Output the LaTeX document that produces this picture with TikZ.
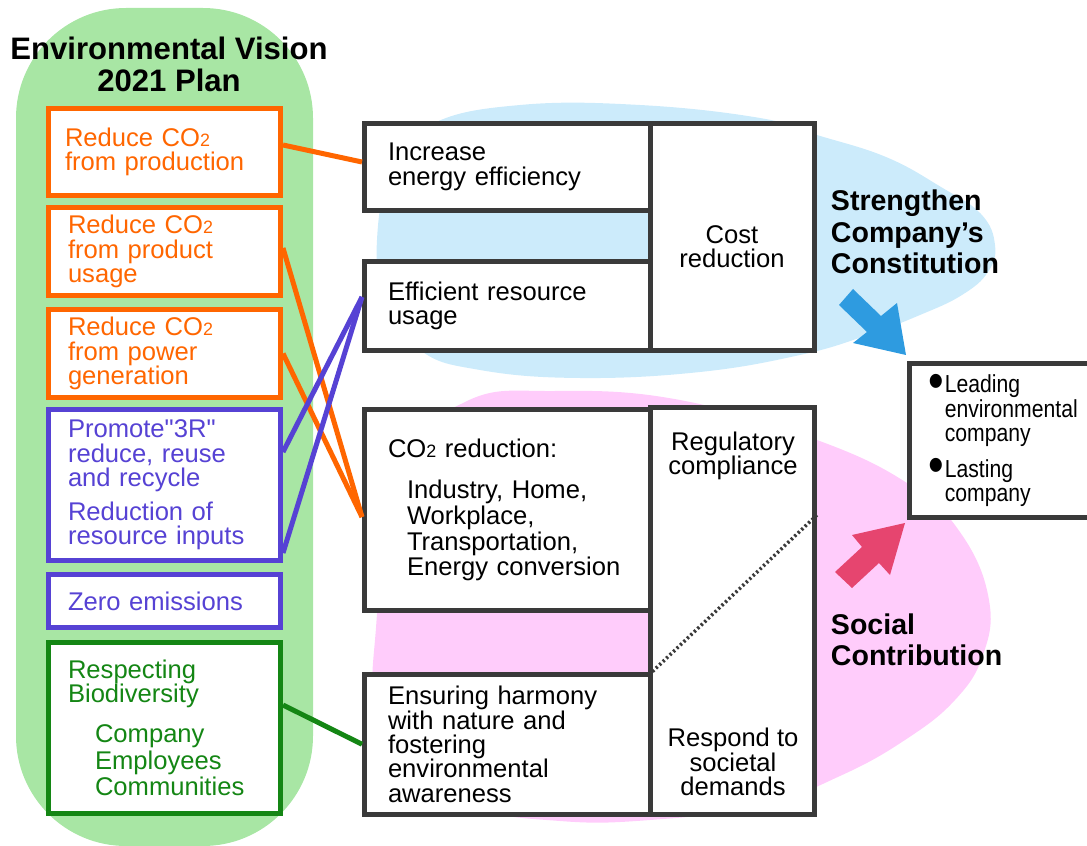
\documentclass[tikz,border=0pt]{standalone}
\usepackage{fontspec}
\setmainfont{Liberation Sans}
\newfontfamily\narrowfont[FakeStretch=0.86]{Liberation Sans}
\usetikzlibrary{calc}

\definecolor{planorange}{RGB}{255,102,0}
\definecolor{planviolet}{RGB}{86,66,212}
\definecolor{plangreen}{RGB}{20,134,20}
\definecolor{pillgreen}{RGB}{168,230,164}
\definecolor{blobblue}{RGB}{204,235,251}
\definecolor{blobpink}{RGB}{255,204,251}
\definecolor{boxgray}{RGB}{58,58,58}
\definecolor{arrowblue}{RGB}{46,155,224}
\definecolor{arrowpink}{RGB}{230,69,111}

\def\pxu{0.025cm}
\newcommand{\cotwo}{CO\scalebox{0.7}{2}}
\newcommand{\blt}{\makebox[0.42cm][l]{\raisebox{-0.24em}{\scalebox{2.1}{\textbullet}}}}
\newcommand{\mainsize}{\fontsize{18.2}{17.3}\selectfont}
\newcommand{\narrowsize}{\fontsize{17.5}{17.3}\selectfont}
\newcommand{\titlesize}{\fontsize{22.1}{22.8}\selectfont}
\newcommand{\labelsize}{\fontsize{20.3}{22.4}\selectfont}

\tikzset{
  goal/.style={draw=#1, text=#1, line width=5*\pxu, fill=white, inner sep=0pt,
    align=left, font=\mainsize, minimum width=232*\pxu},
  midbox/.style={draw=boxgray, line width=5*\pxu, fill=white, inner sep=0pt,
    align=left, font=\mainsize},
  link/.style={line width=5*\pxu, draw=#1},
}

\begin{document}
\begin{tikzpicture}[x=0.025cm, y=-0.025cm]
\useasboundingbox (0,0) rectangle (1087,846);

%% backgrounds
\fill[pillgreen, rounded corners=2.75cm] (16,8) rectangle (313,846);
\fill[blobblue] plot[smooth cycle, tension=0.7] coordinates {
  (377,240) (392,168) (432,124) (520,105) (640,105) (760,118) (817,135)
  (886,157) (941,187) (981,214) (995,245) (988,272) (962,295) (920,315)
  (865,336) (800,355) (700,372) (580,378) (480,370) (420,350) (385,300)};
\fill[blobpink] plot[smooth cycle, tension=0.7] coordinates {
  (375,640) (398,470) (465,402) (555,391) (680,400) (817,440) (910,485)
  (962,535) (989,600) (983,655) (955,700) (905,740) (840,776) (760,806)
  (650,820) (560,821) (470,806) (402,760) (377,700)};

\node[font=\titlesize\bfseries, align=center] (title) at (169,64)
  {Environmental Vision\\2021 Plan};

%% plan items
\node[goal=planorange, minimum height=87*\pxu, text width=199*\pxu] (prod) at (164.5,152)
  {Reduce \cotwo\\from production};
\node[goal=planorange, minimum height=88*\pxu, text width=193*\pxu] (usage) at (164.5,251.5)
  {Reduce \cotwo\\from product\\usage};
\node[goal=planorange, minimum height=88*\pxu, text width=193*\pxu] (power) at (164.5,353.5)
  {Reduce \cotwo\\from power\\generation};
\node[goal=planviolet, minimum height=151*\pxu, text width=193*\pxu] (threeR) at (164.5,485)
  {Promote\textquotedbl 3R\textquotedbl\\reduce, reuse\\and recycle\\[7pt]Reduction of\\resource inputs};
\node[goal=planviolet, minimum height=53*\pxu, text width=193*\pxu] (zero) at (164.5,601)
  {Zero emissions};
\node[goal=plangreen, minimum height=171*\pxu, text width=193*\pxu] (biodiv) at (164.5,728)
  {Respecting\\Biodiversity\\[11pt]\hspace*{0.675cm}Company\\[1.5pt]\hspace*{0.675cm}Employees\\[1.5pt]\hspace*{0.675cm}Communities};

%% actions
\node[midbox, minimum width=285.5*\pxu, minimum height=87*\pxu, text width=238.5*\pxu] (energy) at (507.25,167)
  {Increase\\energy efficiency};
\node[midbox, minimum width=285.5*\pxu, minimum height=89*\pxu, text width=238.5*\pxu] (resource) at (507.25,306)
  {Efficient resource\\usage};
\node[midbox, minimum width=164.5*\pxu, minimum height=227*\pxu] (cost) at (732.25,237) {};
\node[font=\mainsize, align=center] (costlabel) at (732,247) {Cost\\reduction};
\node[midbox, minimum width=285.5*\pxu, minimum height=201.5*\pxu, text width=238.5*\pxu] (cotwo) at (507.25,510)
  {\cotwo\ reduction:\\[12pt]\hspace*{0.475cm}Industry, Home,\\[1pt]\hspace*{0.475cm}Workplace,\\[1pt]\hspace*{0.475cm}Transportation,\\[1pt]\hspace*{0.475cm}Energy conversion};
\node[midbox, minimum width=285.5*\pxu, minimum height=140.5*\pxu, text width=238.5*\pxu] (harmony) at (507.25,744.25)
  {Ensuring harmony\\with nature and\\fostering\\environmental\\awareness};
\node[midbox, minimum width=164.5*\pxu, minimum height=407*\pxu] (demand) at (732.25,611) {};
\node[font=\mainsize, align=center] (comply) at (733,456) {Regulatory\\compliance};
\node[font=\mainsize, align=center] (respond) at (733,762) {Respond to\\societal\\demands};
\draw[boxgray, line width=3.5*\pxu, dash pattern=on 1.6pt off 1.8pt] (harmony.north east) -- ($(demand.east)+(0,-96)$);

%% result
\node[midbox, anchor=west, inner xsep=18.5*\pxu, text width=192*\pxu, minimum height=154*\pxu,
  font=\narrowfont\narrowsize] (vision) at (907,440.5)
  {\blt Leading\\\hspace*{0.42cm}environmental\\\hspace*{0.42cm}company\\[8pt]\blt Lasting\\\hspace*{0.42cm}company};

\node[font=\labelsize\bfseries, align=left, anchor=west] (strength) at (826,232)
  {Strengthen\\Company’s\\Constitution};
\node[font=\labelsize\bfseries, align=left, anchor=west] (social) at (826,640)
  {Social\\Contribution};

\fill[arrowblue] (853,289) -- (881,316) -- (897,303) -- (906,355) -- (853,343) -- (867,332) -- (839,305) -- cycle;
\fill[arrowpink] (835,572) -- (862,547) -- (852,535) -- (905,523) -- (890,575) -- (879,563) -- (852,588) -- cycle;

%% links
\draw[link=planorange] ($(prod.east)+(0,-7)$) -- ($(energy.west)+(0,-5)$);
\draw[link=planorange] ($(usage.east)+(0,-3.5)$) -- ($(cotwo.west)+(0,7)$);
\draw[link=planorange] (power.east) -- ($(cotwo.west)+(0,7)$);
\draw[link=planviolet] ($(threeR.east)+(0,-33)$) -- ($(resource.west)+(0,-9)$);
\draw[link=planviolet] ($(threeR.east)+(0,68)$) -- ($(resource.west)+(0,-9)$);
\draw[link=plangreen] ($(biodiv.east)+(0,-23)$) -- (harmony.west);

\end{tikzpicture}
\end{document}
